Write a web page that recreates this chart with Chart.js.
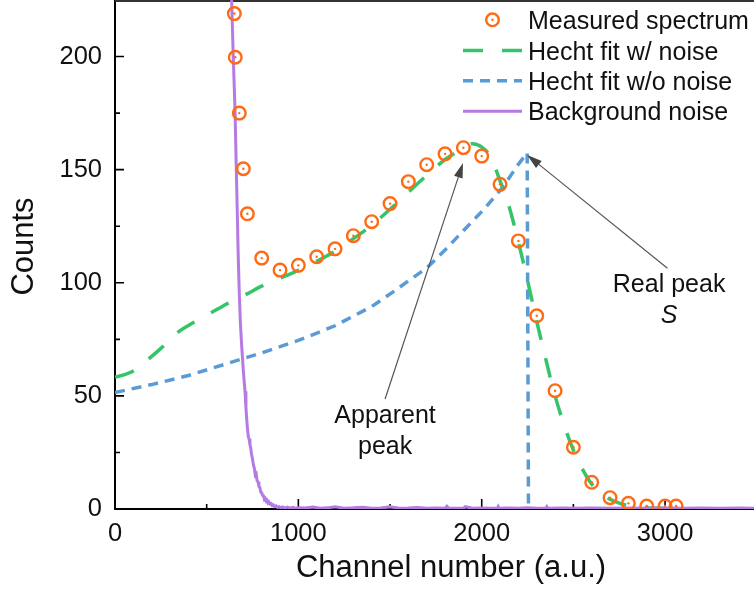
<!DOCTYPE html>
<html>
<head>
<meta charset="utf-8">
<script src="https://cdn.jsdelivr.net/npm/chart.js@4.4.1/dist/chart.umd.min.js"></script>
<style>
  html, body { margin: 0; padding: 0; background: #fff; }
  #chart { display: block; }
</style>
</head>
<body>
<canvas id="chart" width="754" height="590"></canvas>
<script>
const FONT = '"Liberation Sans", Arial, Helvetica, sans-serif';

// measured spectrum (counts per channel bin)
const measuredX = [651, 656, 678, 700, 722, 800, 900, 1000, 1100, 1200, 1300, 1400, 1500, 1600, 1700,
  1800, 1900, 2000, 2100, 2200, 2300, 2400, 2500, 2600, 2700, 2800, 2900, 3000, 3060];
const measuredY = [219, 199.7, 175, 150.4, 130.5, 110.9, 105.6, 107.7, 111.5, 115, 120.8, 127, 135, 144.7, 152.2,
  157, 159.7, 156, 143.5, 118.5, 85.4, 52.3, 27.3, 11.8, 5.0, 2.5, 1.3, 1.3, 1.3];

// Hecht fit including the noise contribution
const fitNoiseX = [0, 60, 120, 172, 250, 336, 430, 536, 630, 718, 800, 900, 1000, 1100, 1200, 1300, 1400,
  1500, 1600, 1700, 1800, 1900, 1950, 2000, 2050, 2100, 2150, 2200, 2250, 2300, 2350, 2400, 2450, 2500,
  2550, 2600, 2650, 2700, 2750, 2800, 2900, 3000, 3200, 3485];
const fitNoiseY = [58.3, 59.6, 62, 65.5, 71, 77.7, 82.5, 87.3, 91.5, 95, 98.5, 102, 105.5, 109.5, 114, 119.5, 125.5,
  132.5, 140, 147.5, 154.5, 159.5, 161.5, 160, 155.5, 145, 133.5, 118, 101, 83, 66, 50, 37, 26,
  17.5, 11, 7, 4.3, 2.6, 1.5, 0.6, 0.3, 0.1, 0.05];

// Hecht fit without noise, ends at the real peak S
const fitCleanX = [0, 200, 400, 600, 800, 1000, 1200, 1400, 1535, 1608, 1700, 1800, 1900, 2009, 2118, 2191, 2248, 2255, 3485];
const fitCleanY = [51.5, 55, 59, 64, 69, 74.5, 81, 89.5, 97, 101.3, 106.5, 114.5, 123, 132.2, 142.5, 151.4, 157.5, 0, 0];

// background noise spectrum
const noiseX = [625, 636, 645, 655, 661, 667, 672, 678, 684, 691, 696, 700, 705, 709, 714, 718, 722, 727, 731,
  736, 740, 745, 750, 755, 760, 765, 770, 775, 780, 785, 790, 795, 800, 805, 810, 815, 820, 825, 830, 835,
  840, 846, 852, 858, 864, 870, 878, 886, 895, 905, 915, 925, 940, 955, 970, 985, 1000, 1040, 1080, 1120,
  1160, 1200, 1250, 1300, 1350, 1400, 1450, 1500, 1550, 1600, 1650, 1700, 1750, 1800, 1810, 1820, 1900,
  1910, 1950, 2000, 2050, 2085, 2090, 2095, 2150, 2200, 2250, 2300, 2350, 2355, 2360, 2450, 2500, 2600,
  2700, 2800, 2900, 3000, 3100, 3200, 3300, 3400, 3485];
const noiseY = [250, 225, 200, 175, 152, 131, 112, 95, 82, 72, 66, 61, 56, 52, 45, 40, 36, 32, 31,
  28.5, 27, 24, 22, 19.5, 18, 15, 15.5, 12.5, 12, 10, 9.5, 7.5, 7.2, 6, 5.8, 4.2, 4.6, 3.4, 3.8, 2.6,
  3, 2.2, 2.4, 1.5, 1.8, 1.1, 1.4, 0.7, 1.0, 0.5, 0.9, 0.4, 0.8, 0.4, 0.7, 0.3, 0.6, 0.4, 0.9, 0.3,
  0.5, 1.0, 0.3, 0.5, 0.8, 0.3, 0.4, 1.0, 0.3, 0.4, 0.7, 0.3, 0.4, 0.3, 1.2, 0.3, 0.3,
  1.0, 0.3, 0.4, 0.3, 0.3, 1.1, 0.3, 0.4, 0.3, 0.5, 0.3, 0.3, 1.0, 0.3, 0.4, 0.3, 0.4,
  0.3, 0.4, 0.3, 0.4, 0.3, 0.4, 0.3, 0.4, 0.3];

// axis ticks
const xTicks = [0, 1000, 2000, 3000];
const xMinor = [500, 1500, 2500];
const yTicks = [0, 50, 100, 150, 200];
const yMinor = [25, 75, 125, 175];

const pts = (xs, ys) => xs.map((x, i) => ({ x, y: ys[i] }));

// scale boxes keep no extra label padding so the plot fills the canvas edge
const noPad = s => { s.paddingTop = 0; s.paddingBottom = 0; s.paddingLeft = 0; s.paddingRight = 0; };

function arrow(ctx, x0, y0, x1, y1) {
  const ang = Math.atan2(y1 - y0, x1 - x0);
  const L = 15, W = 4.5;
  const bx = x1 - L * Math.cos(ang), by = y1 - L * Math.sin(ang);
  ctx.beginPath();
  ctx.moveTo(x0, y0);
  ctx.lineTo(bx, by);
  ctx.stroke();
  ctx.beginPath();
  ctx.moveTo(x1, y1);
  ctx.lineTo(bx + W * Math.sin(ang), by - W * Math.cos(ang));
  ctx.lineTo(bx - W * Math.sin(ang), by + W * Math.cos(ang));
  ctx.closePath();
  ctx.fill();
}

const figure = {
  id: 'figure',
  beforeDatasetsDraw(chart) {
    const { ctx, chartArea: a, scales: { x, y } } = chart;
    ctx.save();
    ctx.strokeStyle = '#000';
    ctx.lineWidth = 1.6;
    ctx.beginPath();
    xTicks.forEach(v => { const p = x.getPixelForValue(v); ctx.moveTo(p, a.bottom); ctx.lineTo(p, a.bottom - 10); });
    xMinor.forEach(v => { const p = x.getPixelForValue(v); ctx.moveTo(p, a.bottom); ctx.lineTo(p, a.bottom - 5); });
    yTicks.forEach(v => { const p = y.getPixelForValue(v); ctx.moveTo(a.left, p); ctx.lineTo(a.left + 9, p); });
    yMinor.forEach(v => { const p = y.getPixelForValue(v); ctx.moveTo(a.left, p); ctx.lineTo(a.left + 5, p); });
    ctx.stroke();
    // top frame
    ctx.strokeStyle = '#333';
    ctx.lineWidth = 2;
    ctx.beginPath();
    ctx.moveTo(a.left, a.top + 1);
    ctx.lineTo(a.right, a.top + 1);
    ctx.stroke();
    ctx.restore();
  },
  afterDatasetsDraw(chart) {
    const { ctx, scales: { x, y } } = chart;
    const ds = chart.data.datasets;
    ctx.save();

    // dot in the middle of each measured marker
    ctx.fillStyle = ds[0].pointBorderColor;
    chart.getDatasetMeta(0).data.forEach(el => {
      ctx.beginPath();
      ctx.arc(el.x, el.y, 1.2, 0, Math.PI * 2);
      ctx.fill();
    });

    // annotations
    ctx.strokeStyle = '#555';
    ctx.fillStyle = '#444';
    ctx.lineWidth = 1.2;
    arrow(ctx, x.getPixelForValue(1473), y.getPixelForValue(48.6), x.getPixelForValue(1898), y.getPixelForValue(153));
    arrow(ctx, x.getPixelForValue(3013), y.getPixelForValue(106.4), x.getPixelForValue(2248), y.getPixelForValue(156.5));

    ctx.fillStyle = '#111';
    ctx.textAlign = 'center';
    ctx.textBaseline = 'alphabetic';
    ctx.font = `25px ${FONT}`;
    ctx.fillText('Apparent', x.getPixelForValue(1473), y.getPixelForValue(38));
    ctx.fillText('peak', x.getPixelForValue(1473), y.getPixelForValue(24.3));
    ctx.fillText('Real peak', x.getPixelForValue(3022), y.getPixelForValue(96.1));
    ctx.font = `italic 25px ${FONT}`;
    ctx.fillText('S', x.getPixelForValue(3022), y.getPixelForValue(82.2));

    // legend
    const rows = [19.8, 50.6, 80.8, 111.3];
    ctx.textAlign = 'left';
    ctx.font = `25px ${FONT}`;
    ds.forEach((d, i) => {
      const cy = rows[i];
      if (d.showLine === false) {
        ctx.strokeStyle = d.pointBorderColor;
        ctx.lineWidth = d.pointBorderWidth;
        ctx.beginPath();
        ctx.arc(492.5, cy, d.pointRadius, 0, Math.PI * 2);
        ctx.stroke();
        ctx.fillStyle = d.pointBorderColor;
        ctx.beginPath();
        ctx.arc(492.5, cy, 1.2, 0, Math.PI * 2);
        ctx.fill();
      } else {
        ctx.strokeStyle = d.borderColor;
        ctx.lineWidth = Math.min(d.borderWidth, 3.5);
        ctx.setLineDash(d.borderDash || []);
        ctx.beginPath();
        ctx.moveTo(463, cy);
        ctx.lineTo(522, cy);
        ctx.stroke();
        ctx.setLineDash([]);
      }
      ctx.fillStyle = '#111';
      ctx.fillText(d.label, 528, cy + 9);
    });

    // axis titles
    ctx.font = `31px ${FONT}`;
    ctx.textAlign = 'center';
    ctx.fillText('Channel number (a.u.)', 451, 577);
    ctx.translate(33.3, 246.5);
    ctx.rotate(-Math.PI / 2);
    ctx.fillText('Counts', 0, 0);
    ctx.restore();
  }
};

new Chart(document.getElementById('chart'), {
  type: 'line',
  data: {
    datasets: [
      {
        label: 'Measured spectrum',
        data: pts(measuredX, measuredY),
        showLine: false,
        pointRadius: 6.3,
        pointBorderWidth: 2.4,
        pointBorderColor: '#ff6a14',
        pointBackgroundColor: 'rgba(0,0,0,0)',
        order: 0
      },
      {
        label: 'Hecht fit w/ noise',
        data: pts(fitNoiseX, fitNoiseY),
        borderColor: '#35c46a',
        borderWidth: 3.5,
        borderDash: [20, 19],
        pointRadius: 0,
        tension: 0.3,
        cubicInterpolationMode: 'monotone',
        order: 2
      },
      {
        label: 'Hecht fit w/o noise',
        data: pts(fitCleanX, fitCleanY),
        borderColor: '#5b9bd5',
        borderWidth: 3.5,
        borderDash: [10, 7],
        pointRadius: 0,
        tension: 0,
        order: 3
      },
      {
        label: 'Background noise',
        data: pts(noiseX, noiseY),
        borderColor: '#b57ae3',
        borderWidth: 3,
        pointRadius: 0,
        tension: 0,
        order: 1
      }
    ]
  },
  options: {
    responsive: false,
    animation: false,
    devicePixelRatio: 1,
    layout: { padding: 0, autoPadding: false },
    plugins: { legend: { display: false }, tooltip: { enabled: false } },
    scales: {
      x: {
        type: 'linear',
        min: 0,
        max: 3485,
        afterBuildTicks: s => { s.ticks = xTicks.map(v => ({ value: v })); },
        afterFit: s => { s.height = 81; noPad(s); },
        grid: { drawOnChartArea: false, drawTicks: false },
        border: { display: true, color: '#000', width: 2 },
        ticks: { padding: 10, color: '#111', font: { family: FONT, size: 25.5 }, callback: v => String(v), maxRotation: 0 }
      },
      y: {
        type: 'linear',
        min: 0,
        max: 225,
        afterBuildTicks: s => { s.ticks = yTicks.map(v => ({ value: v })); },
        afterFit: s => { s.width = 115; noPad(s); },
        grid: { drawOnChartArea: false, drawTicks: false },
        border: { display: true, color: '#000', width: 2 },
        ticks: { padding: 13, color: '#111', font: { family: FONT, size: 25.5 }, callback: v => String(v) }
      }
    }
  },
  plugins: [figure]
});
</script>
</body>
</html>
